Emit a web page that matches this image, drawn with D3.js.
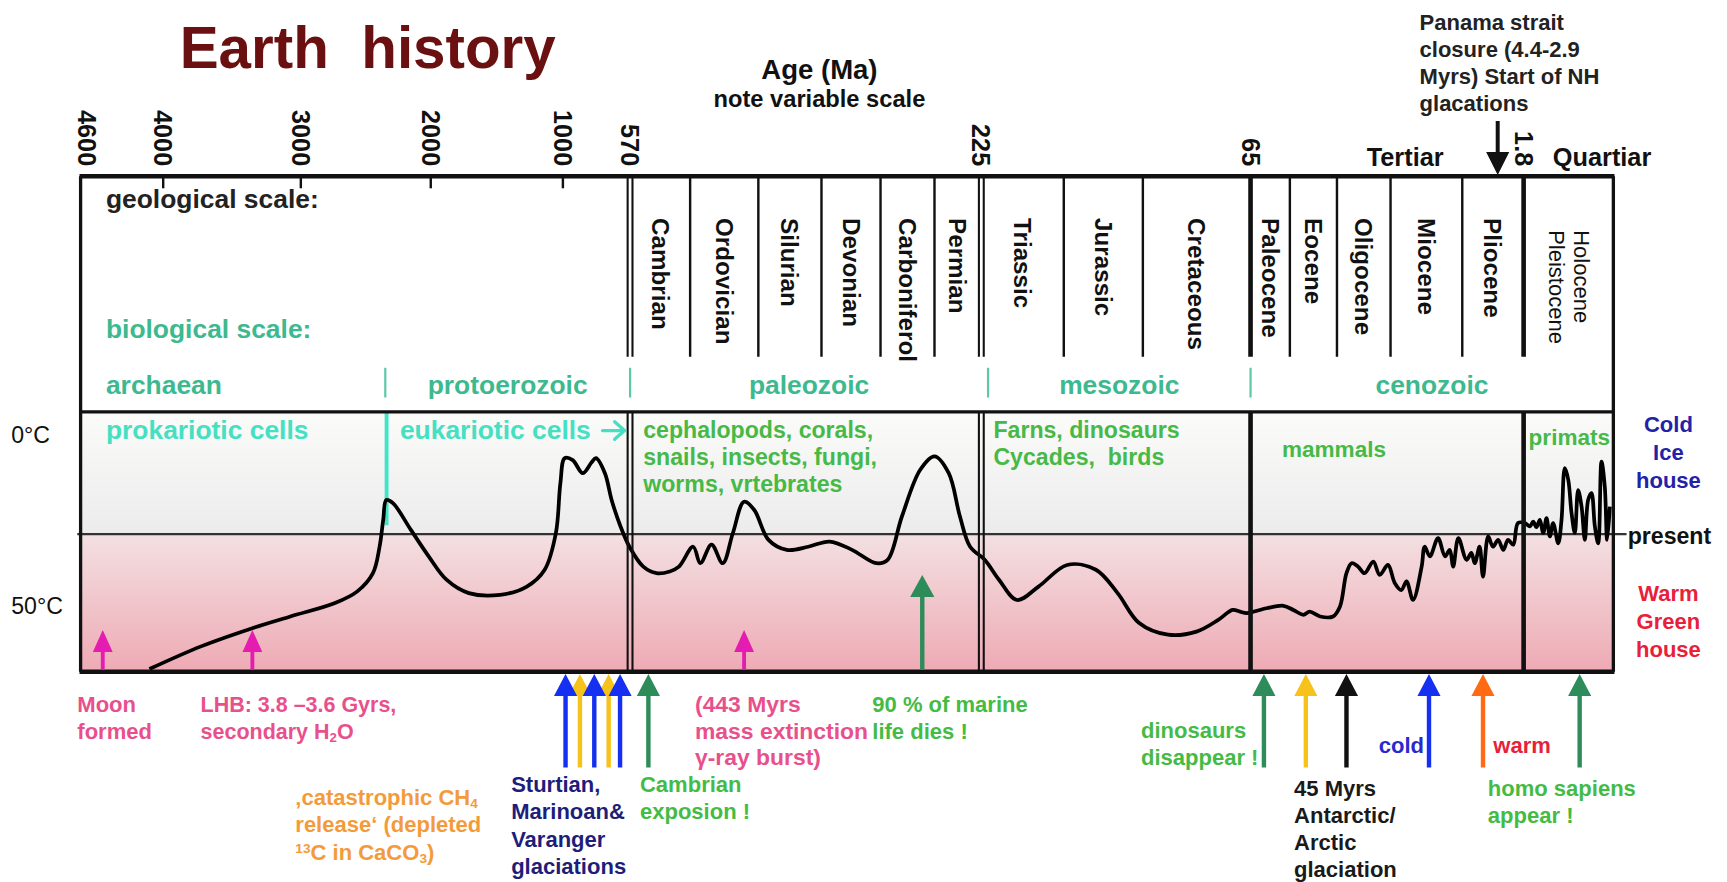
<!DOCTYPE html>
<html>
<head>
<meta charset="utf-8">
<script src="https://cdn.jsdelivr.net/npm/d3@7"></script>
<style>
body { margin: 0; background: #fff; }
svg { display: block; font-family: "Liberation Sans", Arial, sans-serif; }
svg text { white-space: pre; }
</style>
</head>
<body>
<script>
// time axis (Ma) - note variable scale, so several anchors
var axisAges = [4600, 4000, 3000, 2000, 1000, 570, 225, 65, 1.8, 0];
var tickAges = [4600, 4000, 3000, 2000, 1000, 570, 225, 65, 1.8];
var tickLabels = ["4600", "4000", "3000", "2000", "1000", "570", "225", "65", "1.8"];
var innerTickAges = [4000, 3000, 2000, 1000];

// geological periods
var periodNames = ["Cambrian", "Ordovician", "Silurian", "Devonian", "Carboniferol", "Permian",
  "Triassic", "Jurassic", "Cretaceous", "Paleocene", "Eocene", "Oligocene", "Miocene", "Pliocene"];
var periodStart = [570, 511, 444, 382, 324, 271, 225, 176, 129, 65, 55.9, 45, 32.6, 16];
var periodEnd = [511, 444, 382, 324, 271, 225, 176, 129, 65, 55.9, 45, 32.6, 16, 1.8];
var majorBounds = [570, 225, 65, 1.8];
var quaternaryNames = ["Pleistocene", "Holocene"];

// biological eras
var eraNames = ["archaean", "protoerozoic", "paleozoic", "mesozoic", "cenozoic"];
var eraStart = [4600, 2350, 570, 221, 65];
var eraEnd = [2350, 570, 221, 65, 0];

// temperature curve (age in Ma, temperature in deg C)
var curveAge = [4100, 3725, 3352, 3076, 2737, 2565, 2445, 2394, 2366, 2342, 2291, 2153, 2016, 1881, 1712,
  1475, 1273, 1138, 1053, 1019, 988, 937, 873, 817, 788, 731, 688, 631, 574,
  557, 544, 531, 522, 508, 501, 490, 479, 469, 458, 448, 434, 416, 395, 374, 352, 328, 317, 303, 285,
  271, 257, 246, 236,
  223, 214.5, 203.8, 191, 174, 156.9, 144, 131.2, 114.1, 97.1, 84.2, 75.7, 71.3, 67.2,
  61.3, 57.4, 55.1, 52.8, 51.3, 48.9, 45.9, 44.3, 42.8, 41.6, 40.1, 38.6, 36.6, 35.1, 33.2, 31.6,
  30.1, 28.9, 27.4, 25.4, 24.7, 23.5, 21.6, 20.0, 18.9, 18.1, 16.9, 15.0, 13.9, 13.1, 12.0, 11.2,
  10.0, 8.9, 7.7, 6.5, 5.4, 4.2, 3.1,
  1.776, 1.674, 1.608, 1.542, 1.475, 1.407, 1.341, 1.274, 1.208, 1.106, 1.040, 0.974, 0.905, 0.839,
  0.773, 0.707, 0.638, 0.572, 0.506, 0.439, 0.371, 0.304, 0.238, 0.172, 0.125, 0.070];
var curveTemp = [67.5, 60.9, 55.6, 52.2, 48.3, 44.9, 39.6, 31.9, 24.1, 18.3, 19.2, 27.0, 34.7, 41.5, 45.4,
  45.9, 43.5, 38.6, 27.9, 13.4, 6.1, 6.7, 10.5, 7.4, 6.1, 10.5, 18.3, 26.0, 31.9,
  37.7, 39.6, 39.1, 37.7, 31.9, 36.7, 31.3, 36.7, 27.9, 18.8, 21.2, 29.9, 32.8, 31.9, 30.4, 32.8, 36.7, 35.7, 23.1, 9.5,
  5.6, 10.5, 23.1, 31.9,
  35.7, 41.5, 47.4, 43.5, 37.2, 38.6, 45.4, 54.1, 57.5, 56.6, 53.2, 50.3, 50.8, 51.2,
  49.8, 49.1, 50.3, 51.7, 50.8, 52.2, 52.2, 49.3, 39.6, 36.7, 37.7, 39.6, 36.2, 40.1, 37.2, 42.5,
  44.5, 42.0, 47.4, 37.7, 31.9, 34.7, 29.4, 34.7, 32.8, 37.7, 29.4, 35.7, 33.7, 36.7, 31.9, 40.6,
  28.9, 31.9, 29.9, 32.8, 29.9, 31.3, 25.0,
  25.0, 26.0, 24.6, 26.2, 24.1, 27.9, 23.6, 28.9, 25.0, 30.9, 24.1, 9.0, 12.4, 22.1,
  27.9, 15.4, 20.2, 29.9, 18.3, 16.3, 26.0, 30.9, 7.1, 14.4, 29.9, 20.2];
var presentTemp = 28.2;
var eukaryoteAge = 2340;

// event arrows inside the chart
var inArrowAge = [4439, 3352, 458, 283];
var inArrowTemp = [56.1, 56.1, 56.1, 40.1];
var inArrowColor = ["#e41cb2", "#e41cb2", "#e41cb2", "#2e8b5a"];

// event arrows below the chart (yellow first so the blue heads sit on top)
var outArrowAge = [891, 707, 983, 799, 634, 552, 61.9, 52.2, 42.8, 23.7, 11.2, 0.676];
var outArrowColor = ["#f7c21a", "#f7c21a", "#1530f0", "#1530f0", "#1530f0", "#2e8b5a",
  "#2e8b5a", "#f7c21a", "#111111", "#1530f0", "#ff6a13", "#2e8b5a"];
var panamaAge = 7.8;

var W = 1568, H = 801;
var boxL = 73, boxR = 1465, boxT = 160, boxMid = 374, boxB = 610, periodBottom = 324;

var svg = d3.select("body").append("svg")
  .attr("width", 1727).attr("height", 882)
  .attr("viewBox", "0 0 " + W + " " + H);

var x = d3.scaleLinear()
  .domain(axisAges)
  .range([73, 148, 273, 391, 511, 572, 891, 1135.5, 1383.5, 1465]);
var y = d3.scaleLinear().domain([0, 50]).range([397, 553]);

// background gradient of the temperature panel
var grad = svg.append("defs").append("linearGradient")
  .attr("id", "bg").attr("x1", 0).attr("y1", 0).attr("x2", 0).attr("y2", 1);
grad.append("stop").attr("offset", "0%").attr("stop-color", "#fbfbfa");
grad.append("stop").attr("offset", "46%").attr("stop-color", "#ececec");
grad.append("stop").attr("offset", "48%").attr("stop-color", "#f3dfe1");
grad.append("stop").attr("offset", "100%").attr("stop-color", "#eeaab4");

svg.append("rect").attr("x", boxL).attr("y", boxMid)
  .attr("width", boxR - boxL).attr("height", boxB - boxMid)
  .attr("fill", "url(#bg)");

// present day line
svg.append("line").attr("x1", 70).attr("x2", 1477)
  .attr("y1", y(presentTemp)).attr("y2", y(presentTemp))
  .attr("stroke", "#333").attr("stroke-width", 2);

// eukaryote marker
svg.append("line").attr("x1", x(eukaryoteAge)).attr("x2", x(eukaryoteAge))
  .attr("y1", boxMid).attr("y2", 477)
  .attr("stroke", "#3de6c6").attr("stroke-width", 3.5);

// temperature curve
var line = d3.line()
  .x(function(d) { return x(d[0]); })
  .y(function(d) { return y(d[1]); })
  .curve(d3.curveCatmullRom.alpha(0.5));
svg.append("path")
  .datum(d3.zip(curveAge, curveTemp))
  .attr("d", line)
  .attr("fill", "none").attr("stroke", "#000").attr("stroke-width", 3.4)
  .attr("stroke-linejoin", "round");

// period boundaries (top panel)
var minorBounds = periodEnd.filter(function(a) { return majorBounds.indexOf(a) < 0; });
svg.selectAll(".minor").data(minorBounds).enter().append("line")
  .attr("x1", function(d) { return x(d); }).attr("x2", function(d) { return x(d); })
  .attr("y1", boxT).attr("y2", periodBottom)
  .attr("stroke", "#111").attr("stroke-width", 2.2);

majorBounds.forEach(function(a, i) {
  var xs = i < 2 ? [x(a) - 2.2, x(a) + 2.2] : [x(a)];
  var sw = i < 2 ? 1.9 : 4.2;
  xs.forEach(function(xx) {
    [[boxT, periodBottom], [boxMid, boxB]].forEach(function(r) {
      svg.append("line").attr("x1", xx).attr("x2", xx).attr("y1", r[0]).attr("y2", r[1])
        .attr("stroke", "#111").attr("stroke-width", sw);
    });
  });
});

// box outline
svg.append("line").attr("x1", boxL - 1).attr("x2", boxR + 1).attr("y1", boxT).attr("y2", boxT)
  .attr("stroke", "#111").attr("stroke-width", 4);
svg.append("line").attr("x1", boxL).attr("x2", boxR).attr("y1", boxMid).attr("y2", boxMid)
  .attr("stroke", "#111").attr("stroke-width", 3);
svg.append("line").attr("x1", boxL - 1).attr("x2", boxR + 1).attr("y1", boxB).attr("y2", boxB)
  .attr("stroke", "#111").attr("stroke-width", 4);
[boxL, boxR].forEach(function(xx) {
  svg.append("line").attr("x1", xx).attr("x2", xx).attr("y1", boxT).attr("y2", boxB)
    .attr("stroke", "#111").attr("stroke-width", 3);
});

// inner ticks
svg.selectAll(".itick").data(innerTickAges).enter().append("line")
  .attr("x1", function(d) { return x(d); }).attr("x2", function(d) { return x(d); })
  .attr("y1", boxT).attr("y2", boxT + 11)
  .attr("stroke", "#111").attr("stroke-width", 2.2);

// rotated tick labels
svg.selectAll(".tlab").data(tickAges).enter().append("text")
  .attr("transform", function(d) { return "translate(" + (x(d) + (d === 4600 ? 6 : 0)) + ",151) rotate(90)"; })
  .attr("dy", "0.35em").attr("text-anchor", "end")
  .attr("font-size", 23).attr("font-weight", "bold").attr("fill", "#111")
  .text(function(d, i) { return tickLabels[i]; });

// period names
svg.selectAll(".pname").data(periodNames).enter().append("text")
  .attr("transform", function(d, i) {
    return "translate(" + ((x(periodStart[i]) + x(periodEnd[i])) / 2) + ",198) rotate(90)";
  })
  .attr("dy", "0.35em")
  .attr("font-size", 22).attr("font-weight", "bold").attr("fill", "#111")
  .text(function(d) { return d; });
svg.selectAll(".qname").data(quaternaryNames).enter().append("text")
  .attr("transform", function(d, i) { return "translate(" + (x(0.9) + (i === 0 ? -11 : 12)) + ",209) rotate(90)"; })
  .attr("dy", "0.35em")
  .attr("font-size", 20).attr("fill", "#111")
  .text(function(d) { return d; });

// era separators and names
svg.selectAll(".esep").data(eraStart.slice(1)).enter().append("line")
  .attr("x1", function(d) { return x(d); }).attr("x2", function(d) { return x(d); })
  .attr("y1", 334).attr("y2", 361)
  .attr("stroke", "#5cc8a8").attr("stroke-width", 2);
svg.selectAll(".ename").data(eraNames).enter().append("text")
  .attr("x", function(d, i) { return i === 0 ? 96 : (x(eraStart[i]) + x(eraEnd[i])) / 2; })
  .attr("y", 358)
  .attr("text-anchor", function(d, i) { return i === 0 ? "start" : "middle"; })
  .attr("font-size", 24).attr("font-weight", "bold").attr("fill", "#3db98f")
  .text(function(d) { return d; });

// text helper: lines with optional _{sub} and ^{sup}
function addRich(parent, str) {
  var re = /([_^])\{([^}]*)\}/g, last = 0, m;
  while ((m = re.exec(str))) {
    if (m.index > last) parent.append("tspan").text(str.slice(last, m.index));
    parent.append("tspan").attr("font-size", "62%")
      .attr("baseline-shift", m[1] === "_" ? "-2.5px" : "6px").text(m[2]);
    last = re.lastIndex;
  }
  if (last < str.length) parent.append("tspan").text(str.slice(last));
}
function label(xp, y0, dy, arr, color, size, opts) {
  opts = opts || {};
  var t = svg.append("text")
    .attr("font-size", size)
    .attr("font-weight", opts.normal ? "normal" : "bold")
    .attr("fill", color)
    .attr("text-anchor", opts.anchor || "start");
  arr.forEach(function(s, i) {
    var ts = t.append("tspan").attr("x", xp).attr("y", y0 + i * dy);
    addRich(ts, s);
  });
  return t;
}

// headings
label(163, 62, 0, ["Earth\u00a0 history"], "#6b1010", 53);
label(744, 72, 0, ["Age (Ma)"], "#111", 25, { anchor: "middle" });
label(744, 97, 0, ["note variable scale"], "#111", 21.5, { anchor: "middle" });
label(1289, 27, 24.5, ["Panama strait", "closure (4.4-2.9", "Myrs) Start of NH", "glacations"], "#222", 20);
label(1241, 151, 0, ["Tertiar"], "#111", 23);
label(1410, 151, 0, ["Quartiar"], "#111", 23);

label(96, 189, 0, ["geological scale:"], "#222", 24);
label(96, 307, 0, ["biological scale:"], "#3db98f", 24);
label(96, 399, 0, ["prokariotic cells"], "#45e0c2", 24);
label(363, 399, 0, ["eukariotic cells"], "#45e0c2", 24);
// small arrow after "eukariotic cells"
svg.append("path").attr("d", "M547,391 L566,391 M558,383 L567,391 L558,399")
  .attr("fill", "none").attr("stroke", "#45e0c2").attr("stroke-width", 3)
  .attr("stroke-linecap", "round").attr("stroke-linejoin", "round");
label(584, 398, 24.2, ["cephalopods, corals,", "snails, insects, fungi,", "worms, vrtebrates"], "#46b946", 21);
label(902, 398, 24.2, ["Farns, dinosaurs", "Cycades,  birds"], "#46b946", 21);
label(1164, 415, 0, ["mammals"], "#46b946", 20.5);
label(1388, 404, 0, ["primats"], "#46b946", 20.5);

// temperature labels
label(10, y(0) + 5, 0, ["0\u00b0C"], "#111", 21, { normal: true });
label(10, y(50) + 5, 0, ["50\u00b0C"], "#111", 21, { normal: true });
label(1515, 392, 25.5, ["Cold", "Ice", "house"], "#2222a8", 20, { anchor: "middle" });
label(1478, y(presentTemp) + 9, 0, ["present"], "#111", 21);
label(1515, 546, 25.5, ["Warm", "Green", "house"], "#e8203a", 20, { anchor: "middle" });

// arrows
function arrowPath(xp, tip, tail, shaft, headW, headL) {
  var dir = tail > tip ? 1 : -1;
  var hb = tip + dir * headL;
  return "M" + (xp - shaft / 2) + "," + tail +
    "L" + (xp - shaft / 2) + "," + hb +
    "L" + (xp - headW / 2) + "," + hb +
    "L" + xp + "," + tip +
    "L" + (xp + headW / 2) + "," + hb +
    "L" + (xp + shaft / 2) + "," + hb +
    "L" + (xp + shaft / 2) + "," + tail + "Z";
}
svg.selectAll(".inarrow").data(inArrowAge).enter().append("path")
  .attr("d", function(d, i) { return arrowPath(x(d), y(inArrowTemp[i]), boxB - 2, i === 3 ? 4 : 3.5, i === 3 ? 22 : 18, 20); })
  .attr("fill", function(d, i) { return inArrowColor[i]; });
svg.selectAll(".outarrow").data(outArrowAge).enter().append("path")
  .attr("d", function(d) { return arrowPath(x(d), 612, 697, 4, 21, 20); })
  .attr("fill", function(d, i) { return outArrowColor[i]; });
svg.append("path").attr("d", arrowPath(x(panamaAge), 159, 110, 3.6, 21, 21)).attr("fill", "#111");

// annotations
var pink = "#e8508c", green = "#44bb44";
label(70, 647, 24, ["Moon", "formed"], pink, 20);
label(182, 647, 24, ["LHB: 3.8 \u20133.6 Gyrs,", "secondary H_{2}O"], pink, 19.5);
label(631, 647, 24, ["(443 Myrs", "mass extinction", "\u03b3-ray burst)"], pink, 20.8);
label(792, 647, 24, ["90 % of marine", "life dies !"], green, 20);
label(268, 731, 25, ["\u201acatastrophic CH_{4}", "release\u2018 (depleted", "^{13}C in CaCO_{3})"], "#f39b3a", 20);
label(464, 719, 25, ["Sturtian,", "Marinoan&", "Varanger", "glaciations"], "#1e1e7a", 20);
label(581, 719, 25, ["Cambrian", "exposion !"], green, 20);
label(1036, 670, 25, ["dinosaurs", "disappear !"], green, 20);
label(1175, 723, 24.5, ["45 Myrs", "Antarctic/", "Arctic", "glaciation"], "#1a1a1a", 20);
label(1293, 684, 0, ["cold"], "#2a2acc", 20, { anchor: "end" });
label(1356, 684, 0, ["warm"], "#e8203a", 20);
label(1351, 723, 24, ["homo sapiens", "appear !"], green, 20);
</script>
</body>
</html>
